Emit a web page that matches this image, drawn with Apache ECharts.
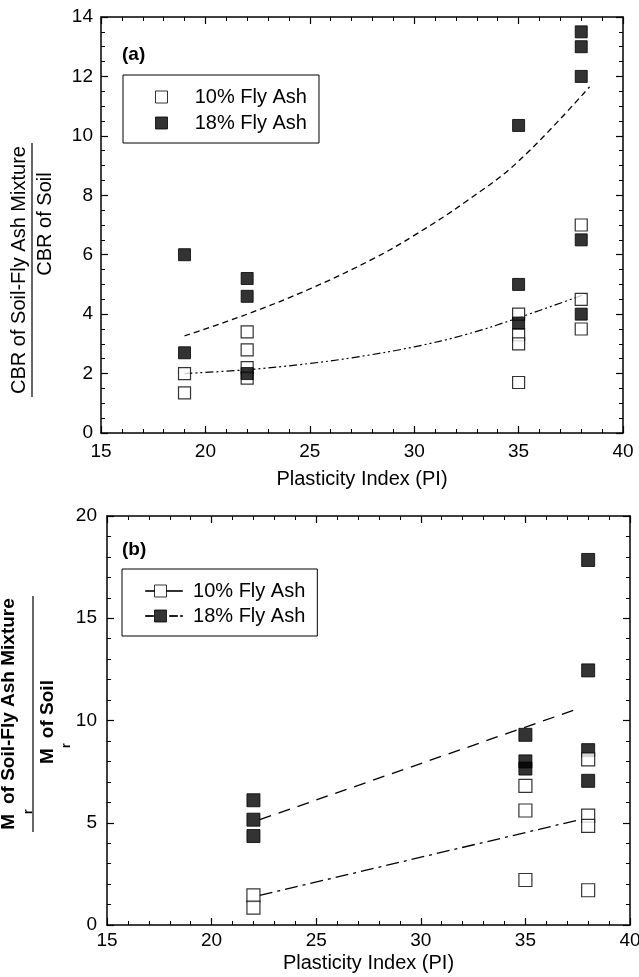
<!DOCTYPE html>
<html><head><meta charset="utf-8">
<script src="https://cdn.jsdelivr.net/npm/echarts@6/dist/echarts.min.js"></script>
<style>html,body{margin:0;padding:0;background:#fff}#c{width:639px;height:977px}</style>
</head><body><div id="c"></div>
<script>
// ---------- Panel (a): CBR ratio vs PI ----------
const piA10  = [19, 19, 22, 22, 22, 22, 35, 35, 35, 35, 38, 38, 38];
const cbrA10 = [2.0, 1.35, 3.4, 2.8, 2.2, 1.85, 4.0, 3.3, 3.0, 1.7, 7.0, 4.5, 3.5];
const piA18  = [19, 19, 22, 22, 22, 35, 35, 35, 38, 38, 38, 38, 38];
const cbrA18 = [6.0, 2.7, 5.2, 4.6, 2.0, 10.35, 5.0, 3.7, 13.5, 13.0, 12.0, 6.5, 4.0];
// trend curves
const trendA18X = [19, 22, 25, 28, 30, 32.5, 35, 38.4];
const trendA18Y = [3.27, 4.0, 4.85, 5.85, 6.65, 7.8, 9.15, 11.65];
const trendA10X = [19, 22, 24.5, 27, 30, 32.5, 35, 38.3];
const trendA10Y = [2.0, 2.13, 2.3, 2.53, 2.9, 3.32, 3.88, 4.7];

// ---------- Panel (b): Mr ratio vs PI ----------
const piB10 = [22, 22, 35, 35, 35, 38, 38, 38, 38];
const mrB10 = [1.45, 0.85, 6.8, 5.6, 2.2, 8.1, 5.35, 4.85, 1.7];
const piB18 = [22, 22, 22, 35, 35, 35, 38, 38, 38, 38];
const mrB18 = [6.1, 5.15, 4.35, 9.3, 8.0, 7.65, 17.85, 12.45, 8.55, 7.05];
const trendB18X = [22.3, 37.5];
const trendB18Y = [5.15, 10.57];
const trendB10X = [22.3, 37.6];
const trendB10Y = [1.45, 5.15];

// ---------- axis ranges / tick labels ----------
const xRange = {min: 15, max: 40, interval: 5};
const yRangeA = {min: 0, max: 14, interval: 2};
const yRangeB = {min: 0, max: 20, interval: 5};
const seriesNames = ['10% Fly Ash', '18% Fly Ash'];
const xTitle = 'Plasticity Index (PI)';

const FONT = '"Liberation Sans", Arial, sans-serif';
const zip = (xs, ys) => xs.map((x, i) => [x, ys[i]]);

function axis(gridIndex, position, range, minorSplit, showLabels, margin, extra) {
  return Object.assign({
    type: 'value', gridIndex, position,
    min: range.min, max: range.max, interval: range.interval,
    axisLine: {show: true, onZero: false, lineStyle: {color: '#000', width: 1.5}},
    axisTick: {show: true, inside: true, length: 7, lineStyle: {color: '#000', width: 1.2}},
    minorTick: {show: true, splitNumber: minorSplit, length: 4, lineStyle: {color: '#000', width: 1}},
    splitLine: {show: false}, minorSplitLine: {show: false},
    axisLabel: {show: showLabels, color: '#000', fontSize: 19, fontFamily: FONT, margin,
                showMinLabel: true, showMaxLabel: true},
  }, extra || {});
}

const chart = echarts.init(document.getElementById('c'));

const openStyle = {color: '#fff', borderColor: '#000', borderWidth: 1.2};
const fillStyle = {color: '#000', borderColor: '#000', borderWidth: 1};

chart.setOption({
  animation: false,
  backgroundColor: '#fff',
  grid: [
    {left: 101, top: 17, width: 522, height: 416, outerBoundsMode: 'none', containLabel: false},
    {left: 107, top: 516, width: 523, height: 409, outerBoundsMode: 'none', containLabel: false}
  ],
  xAxis: [
    axis(0, 'bottom', xRange, 5, true, 9, {name: xTitle, nameLocation: 'middle', nameGap: 36,
      nameTextStyle: {fontSize: 20, color: '#000', fontFamily: FONT}}),
    axis(0, 'top', xRange, 5, false, 8),
    axis(1, 'bottom', xRange, 5, true, 6, {name: xTitle, nameLocation: 'middle', nameGap: 28,
      nameTextStyle: {fontSize: 20, color: '#000', fontFamily: FONT}}),
    axis(1, 'top', xRange, 5, false, 8)
  ],
  yAxis: [
    axis(0, 'left', yRangeA, 4, true, 8),
    axis(0, 'right', yRangeA, 4, false, 8),
    axis(1, 'left', yRangeB, 5, true, 10),
    axis(1, 'right', yRangeB, 5, false, 8)
  ],
  legend: [
    {
      left: 123, top: 75, orient: 'vertical', selectedMode: false,
      data: [{name: seriesNames[0], icon: 'rect'}, {name: seriesNames[1], icon: 'rect'}],
      itemWidth: 12, itemHeight: 12, itemGap: 6,
      padding: [12, 12, 10, 32],
      borderColor: '#000', borderWidth: 1, backgroundColor: '#fff',
      itemStyle: {borderWidth: 1},
      textStyle: {fontSize: 20, color: '#000', fontFamily: FONT},
      formatter: n => '    ' + n
    },
    {
      left: 122, top: 569, orient: 'vertical', selectedMode: false,
      data: [
        {name: seriesNames[0], icon: 'path://M0,5.5H9V6.5H0Z M9,0H21V12H9Z M21,5.5H37V6.5H21Z'},
        {name: seriesNames[1], icon: 'path://M0,5.5H8V6.5H0Z M9,0H21V12H9Z M24,5.5H32V6.5H24Z M35,5.5H37V6.5H35Z'}
      ],
      itemWidth: 37, itemHeight: 12, itemGap: 5,
      padding: [12, 12, 10, 23],
      borderColor: '#000', borderWidth: 1, backgroundColor: '#fff',
      itemStyle: {borderWidth: 1},
      textStyle: {fontSize: 20, color: '#000', fontFamily: FONT},
      formatter: n => ' ' + n
    }
  ],
  series: [
    // panel (a)
    {type: 'line', xAxisIndex: 0, yAxisIndex: 0, data: zip(trendA10X, trendA10Y), smooth: 0.4,
     symbol: 'none', silent: true, lineStyle: {color: '#000', width: 1.2, type: [8, 3, 2, 3, 2, 3]}, z: 1},
    {type: 'line', xAxisIndex: 0, yAxisIndex: 0, data: zip(trendA18X, trendA18Y), smooth: 0.4,
     symbol: 'none', silent: true, lineStyle: {color: '#000', width: 1.3, type: [6, 4]}, z: 1},
    {name: seriesNames[0], type: 'scatter', xAxisIndex: 0, yAxisIndex: 0, data: zip(piA10, cbrA10),
     symbol: 'rect', symbolSize: 12, itemStyle: openStyle, z: 2},
    {name: seriesNames[1], type: 'scatter', xAxisIndex: 0, yAxisIndex: 0, data: zip(piA18, cbrA18),
     symbol: 'rect', symbolSize: 12, itemStyle: fillStyle, z: 3},
    // panel (b)
    {type: 'line', xAxisIndex: 2, yAxisIndex: 2, data: zip(trendB10X, trendB10Y),
     symbol: 'none', silent: true, lineStyle: {color: '#000', width: 1.3, type: [13, 5, 3, 5]}, z: 1},
    {type: 'line', xAxisIndex: 2, yAxisIndex: 2, data: zip(trendB18X, trendB18Y),
     symbol: 'none', silent: true, lineStyle: {color: '#000', width: 1.3, type: [12, 8]}, z: 1},
    {name: seriesNames[1], type: 'scatter', xAxisIndex: 2, yAxisIndex: 2, data: zip(piB18, mrB18),
     symbol: 'rect', symbolSize: 13, itemStyle: fillStyle, z: 2},
    {name: seriesNames[0], type: 'scatter', xAxisIndex: 2, yAxisIndex: 2, data: zip(piB10, mrB10),
     symbol: 'rect', symbolSize: 13, itemStyle: openStyle, z: 3}
  ],
  graphic: [
    {type: 'text', left: 122, top: 45, style: {text: '(a)', font: 'bold 19px ' + FONT, fill: '#000'}},
    {type: 'text', left: 122, top: 540, style: {text: '(b)', font: 'bold 19px ' + FONT, fill: '#000'}},
    {
      type: 'group', x: 32, y: 270, rotation: Math.PI / 2,
      children: [
        {type: 'text', style: {text: 'CBR of Soil-Fly Ash Mixture', x: 0, y: -3, align: 'center',
          verticalAlign: 'bottom', font: '20px ' + FONT, fill: '#000'}},
        {type: 'line', shape: {x1: -127, y1: 0, x2: 127, y2: 0}, style: {stroke: '#000', lineWidth: 1.2}},
        {type: 'text', style: {text: 'CBR of Soil', x: 46, y: 3, align: 'center',
          verticalAlign: 'top', font: '20px ' + FONT, fill: '#000'}}
      ]
    },
    {
      type: 'group', x: 33, y: 714, rotation: Math.PI / 2,
      children: [
        {type: 'text', style: {
          text: '{m|M}{s|r}{m| of Soil-Fly Ash Mixture}', x: 0, y: -34, align: 'center',
          verticalAlign: 'top', fill: '#000',
          rich: {
            m: {fontSize: 19, fontWeight: 'bold', fontFamily: FONT, lineHeight: 22, verticalAlign: 'top'},
            s: {fontSize: 12, fontWeight: 'bold', fontFamily: FONT, lineHeight: 12, verticalAlign: 'top', padding: [24, 0, 0, 0]}
          }}},
        {type: 'line', shape: {x1: -118, y1: 0, x2: 118, y2: 0}, style: {stroke: '#000', lineWidth: 1.2}},
        {type: 'text', style: {
          text: '{m|M}{s|r}{m| of Soil}', x: -8, y: 5, align: 'center',
          verticalAlign: 'top', fill: '#000',
          rich: {
            m: {fontSize: 19, fontWeight: 'bold', fontFamily: FONT, lineHeight: 22, verticalAlign: 'top'},
            s: {fontSize: 12, fontWeight: 'bold', fontFamily: FONT, lineHeight: 12, verticalAlign: 'top', padding: [23, 0, 0, 0]}
          }}}
      ]
    }
  ]
});
</script>
</body></html>
